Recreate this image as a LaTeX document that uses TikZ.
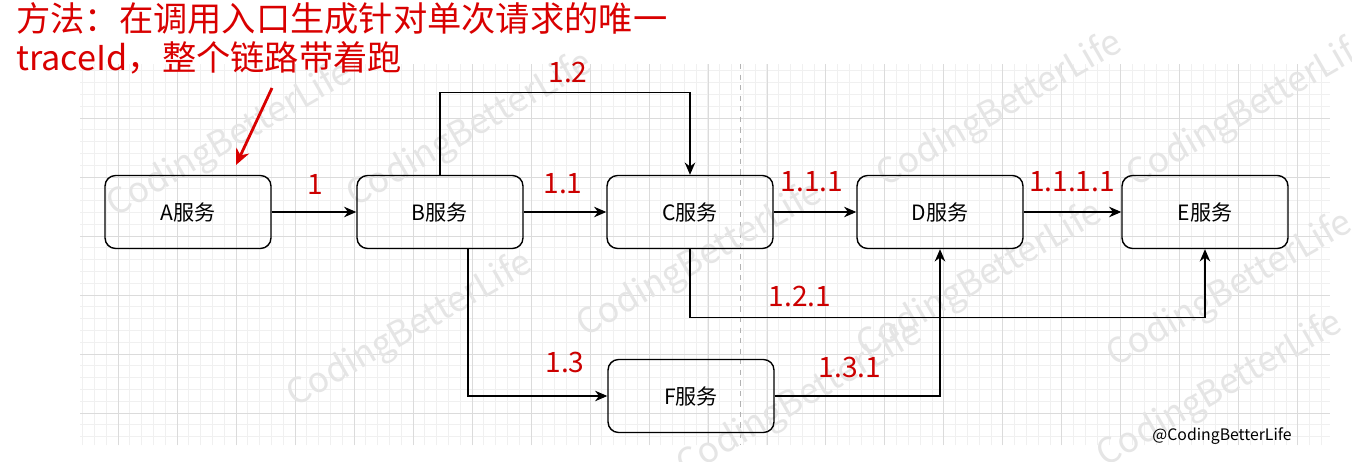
\documentclass[tikz,border=0pt]{standalone}
\usepackage{fontspec}
\setmainfont{Noto Sans CJK SC}
\usetikzlibrary{arrows.meta, positioning}
\tikzset{
    svc/.style={draw, rounded corners=6pt, minimum width=3.32cm, minimum height=1.46cm, font=\fontsize{12}{14}\selectfont, line width=0.8pt},
    flow/.style={-{Stealth[length=7pt,width=6pt]}, line width=0.7pt},
    num/.style={text=red!80!black, font=\fontsize{16}{18}\selectfont},
    wmark/.style={text=gray!20, font=\fontsize{20}{22}\selectfont, rotate=30}
}
\begin{document}
\begin{tikzpicture}[x=0.02cm, y=-0.02cm]
        \useasboundingbox (0,0) rectangle (1352,462);
        \fill[white] (0,0) rectangle (1352,462);
        % background grid
        \draw[gray!12, step=0.236cm] (80,64) grid (1330,445);
        \draw[gray!28, step=1.18cm] (80,64) grid (1330,445);
        \draw[gray!60, dashed] (740,64) -- (740,445);
        % watermarks
        \foreach \wx/\wy [count=\i] in {230/140, 470/130, 1000/110, 1250/110, 700/260, 980/280, 1230/290, 410/330, 800/400, 1220/390}
            \node[wmark] (w\i) at (\wx,\wy) {CodingBetterLife};
        % services
        \node[svc] (a) at (188,212) {A服务};
        \node[svc] (b) at (440,212) {B服务};
        \node[svc] (c) at (690,212) {C服务};
        \node[svc] (d) at (940,212) {D服务};
        \node[svc] (e) at (1205,212) {E服务};
        \node[svc] (f) at (691,396) {F服务};
        % calls
        \draw[flow] (a) -- (b);
        \draw[flow] (b) -- (c);
        \draw[flow] (c) -- (d);
        \draw[flow] (d) -- (e);
        \draw[flow] (b.north) -- ++(0,-82) -| (c.north);
        \draw[flow] (c.south) -- ++(0,68) -| (e.south);
        \draw[flow] ([xshift=0.56cm]b.south) |- (f.west);
        \draw[flow] (f.east) -| (d.south);
        % span ids
        \node[num] (n1) at (315,184) {1};
        \node[num] (n11) at (563,184) {1.1};
        \node[num] (n12) at (568,72) {1.2};
        \node[num] (n111) at (812,182) {1.1.1};
        \node[num] (n1111) at (1072,182) {1.1.1.1};
        \node[num] (n121) at (800,296) {1.2.1};
        \node[num] (n13) at (565,362) {1.3};
        \node[num] (n131) at (850,367) {1.3.1};
        % note
        \node[text=red!85!black, font=\fontsize{19.5}{22.5}\selectfont, align=left, anchor=north west, inner sep=0pt] (note) at (16,2)
            {方法：在调用入口生成针对单次请求的唯一\\traceId，整个链路带着跑};
        \coordinate (tip) at (236,165);
        \draw[red!85!black, line width=1.6pt, -{Stealth[length=9pt,width=8pt]}] (272,88) -- (tip);
        \node[font=\fontsize{9}{11}\selectfont] (sig) at (1222,436) {@CodingBetterLife};
\end{tikzpicture}
\end{document}
